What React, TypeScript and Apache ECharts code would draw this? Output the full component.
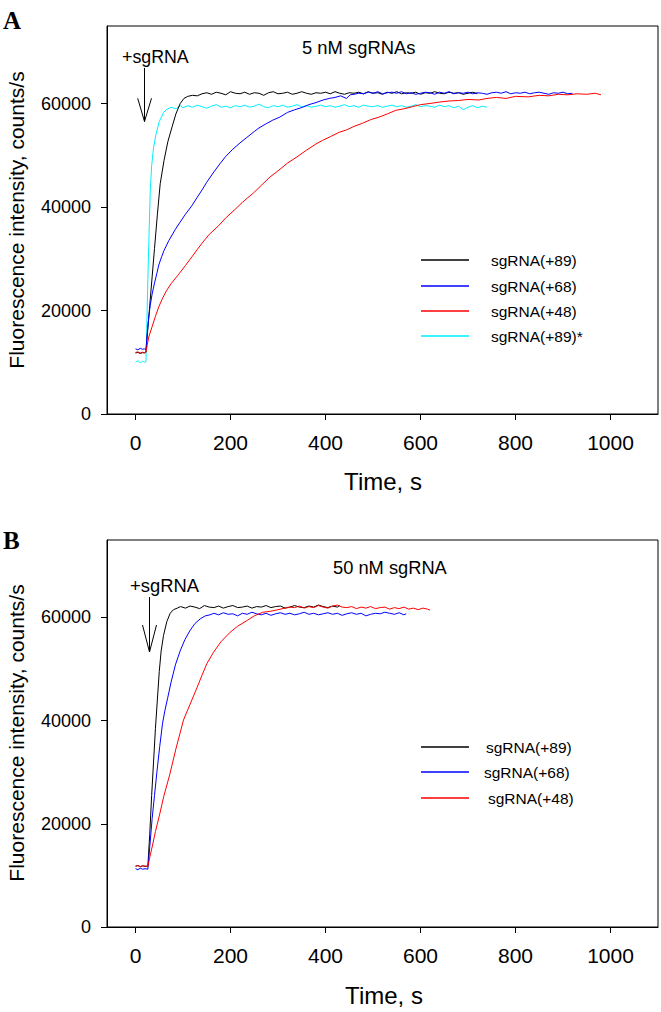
import React, { useEffect, useRef } from "react";
import * as echarts from "echarts";

// ---------- Tick values ----------
const X_TICKS = [0, 200, 400, 600, 800, 1000];
const Y_TICKS = [0, 20000, 40000, 60000];

// ---------- Panel A (5 nM sgRNAs) ----------
const A_BLACK: number[][] = [
  [0, 11800], [5, 11900], [10, 11700], [15, 11850], [19, 11800], [22, 12000], [26, 16500], [30, 21000],
  [35, 26500], [40, 32000], [46, 38500], [52, 44500], [60, 49000], [68, 52600], [77, 55500], [85, 58000],
  [94, 60000], [102, 61000], [110, 61400], [120, 61600], [130, 61500], [140, 61900], [150, 62100],
  [160, 61800], [170, 62200], [180, 62000], [190, 61700], [200, 62300], [210, 62000], [220, 61900],
  [230, 62200], [240, 61800], [250, 62100], [260, 62000], [270, 61600], [280, 62100], [290, 62300],
  [300, 61900], [310, 62000], [320, 62200], [330, 61800], [340, 62000], [350, 62300], [360, 62000],
  [370, 61800], [380, 62100], [390, 62000], [400, 62200], [410, 61900], [420, 62300], [430, 62000],
  [440, 61800], [450, 62100], [460, 62000], [470, 62200], [480, 61900], [490, 62300], [500, 62000],
  [510, 62100], [520, 61800], [530, 62200], [540, 62000], [550, 62300], [560, 61900], [570, 62100],
  [580, 62000], [590, 62200], [600, 61800], [610, 62100], [620, 62000], [630, 62300], [640, 62000],
  [650, 61900], [660, 62200], [670, 62000], [680, 62100], [690, 61800], [700, 62000], [710, 62200],
  [720, 61900],
];

const A_CYAN: number[][] = [
  [0, 10000], [5, 10300], [10, 9900], [15, 10200], [19, 10000], [22, 10100], [24, 18000], [26, 26000],
  [28, 33000], [31, 43000], [34, 48000], [38, 51500], [43, 54000], [50, 56500], [59, 58300], [66, 58900],
  [75, 59300], [85, 59000], [95, 59600], [100, 59200], [110, 59600], [120, 59300], [130, 59700],
  [140, 59400], [150, 59100], [160, 59500], [170, 59800], [180, 59300], [190, 59500], [200, 59200],
  [210, 59600], [220, 59400], [230, 59700], [240, 59300], [250, 59500], [260, 59900], [270, 59400],
  [280, 59200], [290, 59600], [300, 59400], [310, 59700], [320, 59300], [330, 59500], [340, 59800],
  [350, 59400], [360, 59600], [370, 59300], [380, 59500], [390, 59700], [400, 59400], [410, 59600],
  [420, 59300], [430, 59500], [440, 59800], [450, 59400], [460, 59600], [470, 59300], [480, 59700],
  [490, 59500], [500, 59400], [510, 59600], [520, 59300], [530, 59500], [540, 59700], [550, 59400],
  [560, 59600], [570, 59300], [580, 59500], [590, 59800], [600, 59400], [610, 59600], [620, 59500],
  [630, 59300], [640, 59700], [650, 59400], [660, 59600], [670, 59200], [680, 59500], [690, 58800],
  [700, 59300], [710, 59600], [720, 59200], [730, 59500], [740, 59300],
];

const A_BLUE: number[][] = [
  [0, 12600], [5, 12400], [10, 12700], [15, 12500], [19, 12600], [22, 12400], [25, 16000], [28, 18800],
  [31, 21000], [35, 23200], [40, 25300], [45, 27200], [49, 28800], [55, 30400], [60, 31600], [70, 33500],
  [84, 35700], [94, 37100], [105, 38600], [119, 40300], [130, 41900], [140, 43300], [150, 44800],
  [165, 46800], [178, 48400], [190, 49800], [205, 51200], [220, 52400], [235, 53500], [250, 54600],
  [260, 55300], [275, 56100], [289, 56800], [304, 57400], [320, 58300], [335, 58800], [352, 59300],
  [365, 59800], [380, 60200], [395, 60700], [408, 61000], [420, 61200], [432, 61500], [444, 61000],
  [452, 61700], [460, 61800], [470, 62000], [480, 61900], [490, 62200], [500, 62000], [510, 62300],
  [520, 61900], [530, 62100], [540, 62200], [550, 62000], [560, 62300], [570, 61900], [580, 62100],
  [590, 61800], [600, 62000], [610, 62200], [620, 62100], [630, 61800], [640, 62200], [650, 62000],
  [660, 62300], [670, 61900], [680, 62100], [690, 62000], [700, 62200], [710, 61900], [720, 62100],
  [730, 62000], [740, 61800], [750, 62100], [760, 62200], [770, 62000], [780, 62300], [790, 61900],
  [800, 62100], [810, 62000], [820, 62200], [830, 61900], [840, 62100], [850, 62200], [860, 62000],
  [870, 61800], [880, 62100], [890, 62000], [900, 62200], [910, 61900], [920, 62000],
];

const A_RED: number[][] = [
  [0, 11900], [5, 12000], [10, 11800], [15, 11950], [19, 11850], [22, 11900], [25, 13500], [28, 14900],
  [35, 16900], [42, 18900], [49, 20700], [56, 22200], [65, 23800], [75, 25200], [90, 26900], [105, 28700],
  [119, 30400], [130, 31800], [140, 33000], [155, 34700], [175, 36400], [190, 37900], [209, 39500],
  [225, 40900], [235, 41700], [248, 42700], [265, 44200], [283, 45800], [300, 47000], [320, 48500],
  [340, 49700], [360, 51000], [380, 52200], [394, 52900], [410, 53600], [430, 54500], [444, 54900],
  [460, 55600], [478, 56200], [495, 56900], [513, 57400], [530, 58000], [548, 58700], [565, 59000],
  [583, 59400], [600, 59800], [618, 60000], [640, 60300], [660, 60500], [680, 60600], [700, 60800],
  [723, 60700], [740, 61000], [760, 61200], [780, 61000], [800, 61400], [827, 61300], [850, 61600],
  [870, 61500], [890, 61800], [910, 61700], [930, 61900], [950, 61800], [968, 62000], [980, 61700],
];

// ---------- Panel B (50 nM sgRNA) ----------
const B_BLACK: number[][] = [
  [0, 11800], [5, 11900], [10, 11700], [15, 11850], [20, 11750], [26, 11800], [30, 18000], [34, 25500],
  [38, 32000], [42, 38500], [46, 44000], [50, 49500], [54, 53500], [59, 56500], [66, 59200], [73, 60800],
  [80, 61500], [88, 61800], [95, 62100], [105, 61800], [115, 62200], [125, 62000], [135, 61700],
  [145, 62300], [155, 62000], [165, 61900], [175, 62200], [185, 61800], [195, 62100], [205, 62300],
  [215, 61900], [225, 62000], [235, 62200], [245, 61800], [255, 62100], [265, 62000], [275, 62300],
  [285, 61900], [295, 62100], [305, 62200], [315, 61800], [325, 62000], [335, 62300], [345, 62000],
  [355, 61900], [365, 62200], [375, 62000], [385, 62400], [395, 62100], [405, 61900], [415, 62200],
  [425, 62000], [430, 62300],
];

const B_BLUE: number[][] = [
  [0, 11300], [5, 11100], [10, 11400], [15, 11200], [20, 11300], [26, 11200], [30, 15500], [35, 21000],
  [40, 25500], [45, 30000], [51, 35000], [57, 39500], [62, 42000], [68, 44500], [75, 47500], [84, 50800],
  [94, 53500], [104, 55700], [115, 57500], [125, 58800], [136, 59700], [147, 60300], [157, 60500],
  [165, 60800], [175, 60500], [185, 60900], [195, 60600], [205, 60700], [215, 60300], [225, 60800],
  [235, 60600], [245, 61000], [255, 60700], [265, 60500], [275, 60800], [285, 60400], [295, 60700],
  [305, 60900], [315, 60600], [325, 60800], [335, 60500], [345, 60700], [355, 61000], [365, 60600],
  [375, 60800], [385, 60500], [395, 60700], [405, 60900], [415, 60600], [425, 60800], [435, 60400],
  [445, 60700], [455, 60900], [465, 60600], [475, 60800], [485, 60300], [495, 60600], [505, 60800],
  [515, 60700], [525, 61000], [535, 60800], [545, 60600], [555, 60900], [565, 60500], [570, 60700],
];

const B_RED: number[][] = [
  [0, 11800], [5, 11900], [10, 11700], [15, 11850], [20, 11800], [26, 11700], [30, 13500], [35, 15500],
  [42, 18500], [50, 21500], [60, 25500], [72, 29500], [85, 34500], [101, 40100], [115, 43200],
  [130, 46500], [140, 48800], [150, 51000], [164, 53200], [180, 55300], [199, 57100], [215, 58300],
  [235, 59400], [250, 60300], [268, 61000], [285, 61200], [300, 61500], [315, 61800], [325, 62000],
  [335, 61900], [345, 62200], [355, 61800], [365, 62100], [375, 61900], [385, 62300], [395, 62000],
  [405, 61800], [415, 62200], [425, 62400], [435, 62000], [445, 61900], [455, 62100], [465, 61700],
  [475, 62000], [485, 61800], [495, 62100], [505, 61700], [515, 61900], [525, 62000], [535, 61600],
  [545, 61900], [555, 61700], [565, 62000], [575, 61600], [585, 61800], [595, 61500], [605, 61800],
  [615, 61600], [620, 61400],
];

const NAMES_A = ["sgRNA(+89)", "sgRNA(+68)", "sgRNA(+48)", "sgRNA(+89)*"];
const NAMES_B = ["sgRNA(+89)", "sgRNA(+68)", "sgRNA(+48)"];
const C_BLACK = "#000000";
const C_BLUE = "#0000ff";
const C_RED = "#ff0000";
const C_CYAN = "#00f0ff";

const SANS = "'Liberation Sans', Arial, sans-serif";
const SERIF = "'Liberation Serif', 'Times New Roman', serif";

const plain = (v: number) => String(v);

function xAxisCfg(gridIndex: number) {
  return {
    type: "value",
    gridIndex,
    min: -60,
    max: 1100,
    axisLine: { show: true, onZero: false, lineStyle: { color: "#000", width: 1 } },
    axisTick: { show: true, inside: false, length: 6, customValues: X_TICKS, lineStyle: { color: "#000", width: 1 } },
    axisLabel: { customValues: X_TICKS, formatter: plain, margin: 18, fontSize: 21, color: "#000", fontFamily: SANS },
    splitLine: { show: false },
  };
}
function yAxisCfg(gridIndex: number) {
  return {
    type: "value",
    gridIndex,
    min: 0,
    max: 75000,
    axisLine: { show: true, onZero: false, lineStyle: { color: "#000", width: 1 } },
    axisTick: { show: true, inside: false, length: 6, customValues: Y_TICKS, lineStyle: { color: "#000", width: 1 } },
    axisLabel: { customValues: Y_TICKS, formatter: plain, margin: 16, fontSize: 18, color: "#000", fontFamily: SANS },
    splitLine: { show: false },
  };
}
function line(name: string, data: number[][], color: string, idx: number, z: number) {
  return {
    type: "line",
    name,
    data,
    xAxisIndex: idx,
    yAxisIndex: idx,
    showSymbol: false,
    symbol: "none",
    lineStyle: { color, width: 1 },
    itemStyle: { color },
    z,
  };
}
function txt(text: string, x: number, y: number, size: number, opts: any = {}) {
  return {
    type: "text",
    x,
    y,
    rotation: opts.rotation || 0,
    style: {
      text,
      fontSize: size,
      fontFamily: opts.family || SANS,
      fontWeight: opts.weight || "normal",
      fill: "#000",
      textAlign: opts.align || "left",
      align: opts.align || "left",
      textVerticalAlign: "middle",
      verticalAlign: "middle",
    },
  };
}
function seg(x1: number, y1: number, x2: number, y2: number, color = "#000", w = 1) {
  return { type: "line", shape: { x1, y1, x2, y2 }, style: { stroke: color, lineWidth: w } };
}
function arrowHead(pts: number[][]) {
  return { type: "polyline", shape: { points: pts }, style: { stroke: "#000", fill: null, lineWidth: 1 } };
}

export default function App() {
  const ref = useRef<HTMLDivElement>(null);
  useEffect(() => {
    if (!ref.current) return;
    const chart = echarts.init(ref.current, null, { renderer: "svg" });
    const colorsA = [C_BLACK, C_BLUE, C_RED, C_CYAN];
    const legendYA = [260, 286, 311, 336];
    const colorsB = [C_BLACK, C_BLUE, C_RED];
    const legendYB = [747, 772, 798];
    const legendTextXB = [486, 484, 488];
    const graphics: any[] = [
      txt("A", 3, 20, 25, { family: SERIF, weight: "bold" }),
      txt("B", 3, 540, 25, { family: SERIF, weight: "bold" }),
      txt("Fluorescence intensity, counts/s", 16, 220, 21, { rotation: Math.PI / 2, align: "center" }),
      txt("Fluorescence intensity, counts/s", 16, 733, 21, { rotation: Math.PI / 2, align: "center" }),
      txt("Time, s", 383, 481, 24, { align: "center" }),
      txt("Time, s", 384, 995, 24, { align: "center" }),
      txt("+sgRNA", 122, 57, 17.8),
      txt("5 nM sgRNAs", 302, 47, 18.4),
      seg(144.5, 68, 144.5, 121.5),
      arrowHead([[137.7, 98.3], [144.5, 121.5], [151.5, 98.3]]),
      txt("+sgRNA", 130, 585, 18.4),
      txt("50 nM sgRNA", 333, 567, 18.3),
      seg(149.5, 597, 149.5, 652),
      arrowHead([[142.5, 625], [149.5, 652], [156.5, 625]]),
    ];
    NAMES_A.forEach((n, i) => {
      graphics.push(seg(421, legendYA[i], 469, legendYA[i], colorsA[i], 1.3));
      graphics.push(txt(n, 491, legendYA[i], 15.5));
    });
    NAMES_B.forEach((n, i) => {
      graphics.push(seg(421, legendYB[i], 469, legendYB[i], colorsB[i], 1.3));
      graphics.push(txt(n, legendTextXB[i], legendYB[i], 15.5));
    });

    chart.setOption({
      animation: false,
      backgroundColor: "#fff",
      grid: [
        { left: 107, top: 26, width: 551, height: 388, show: true, borderColor: "#000", borderWidth: 1, backgroundColor: "transparent" },
        { left: 107, top: 540, width: 551, height: 387, show: true, borderColor: "#000", borderWidth: 1, backgroundColor: "transparent" },
      ],
      xAxis: [xAxisCfg(0), xAxisCfg(1)],
      yAxis: [yAxisCfg(0), yAxisCfg(1)],
      series: [
        line(NAMES_A[3], A_CYAN, C_CYAN, 0, 2),
        line(NAMES_A[0], A_BLACK, C_BLACK, 0, 3),
        line(NAMES_A[1], A_BLUE, C_BLUE, 0, 4),
        line(NAMES_A[2], A_RED, C_RED, 0, 5),
        line(NAMES_B[0], B_BLACK, C_BLACK, 1, 3),
        line(NAMES_B[1], B_BLUE, C_BLUE, 1, 4),
        line(NAMES_B[2], B_RED, C_RED, 1, 5),
      ],
      graphic: graphics,
    });
    return () => chart.dispose();
  }, []);
  return (
    <div
      ref={ref}
      style={{ position: "absolute", left: 0, top: 0, width: 661, height: 1012, background: "#fff" }}
    />
  );
}
